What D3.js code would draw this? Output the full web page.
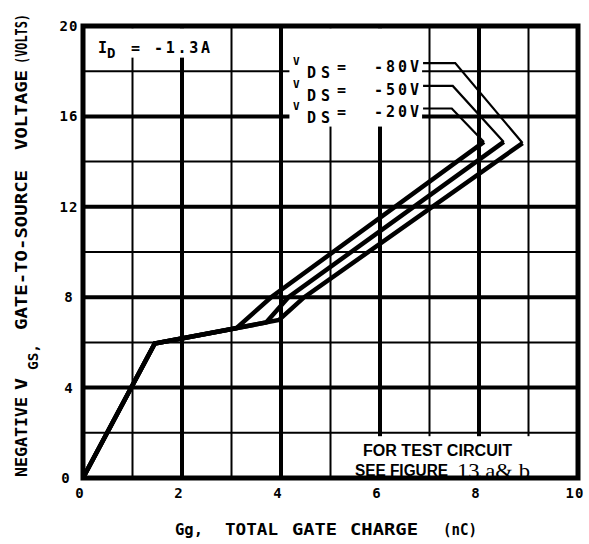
<!DOCTYPE html>
<html>
<head>
<meta charset="utf-8">
<script src="https://cdn.jsdelivr.net/npm/d3@7"></script>
<style>
  html, body { margin: 0; padding: 0; background: #fff; }
  svg { display: block; }
  .mono { font-family: "DejaVu Sans Mono", monospace; font-weight: bold; fill: #000; }
</style>
</head>
<body>
<div id="chart"></div>
<script>
// Gate charge curves: -Vgs vs total gate charge, I_D = -1.3A

const xTickValues = [0, 2, 4, 6, 8, 10];
const yTickValues = [0, 4, 8, 12, 16, 20];
const xGridMinor = [1, 3, 5, 7, 9];
const yGridMinor = [2, 6, 10, 14, 18];

const vdsLabels = ['-20V', '-50V', '-80V'];

// [Qg (nC), -Vgs (V)]
const curveVds20 = [[0, 0], [1.45, 5.95], [3.1, 6.63], [3.8, 8], [8.1, 14.87]];
const curveVds50 = [[0, 0], [1.45, 5.95], [3.7, 6.88], [4.15, 8], [8.5, 14.87]];
const curveVds80 = [[0, 0], [1.45, 5.95], [3.96, 6.99], [4.47, 8], [8.88, 14.82]];
const curves = [curveVds20, curveVds50, curveVds80];

// leader lines from the labels to the curve ends (data units)
const leaderY = [16.35, 17.35, 18.36];
const leaderElbowX = [7.45, 7.47, 7.52];
const leaderStartX = 6.87;

const W = 589, H = 544;

const svg = d3.select('#chart').append('svg')
    .attr('width', W)
    .attr('height', H);

const x = d3.scaleLinear().domain([0, 10]).range([83, 578]);
const y = d3.scaleLinear().domain([0, 20]).range([478, 26]);

// Grid - thin lines every 1 nC / 2 V, heavy every 2 nC / 4 V
const grid = svg.append('g');
grid.selectAll('.vminor').data(xGridMinor).enter().append('line')
    .attr('x1', d => x(d)).attr('x2', d => x(d))
    .attr('y1', y(0)).attr('y2', y(20))
    .attr('stroke', '#000').attr('stroke-width', 2);
grid.selectAll('.hminor').data(yGridMinor).enter().append('line')
    .attr('x1', x(0)).attr('x2', x(10))
    .attr('y1', d => y(d)).attr('y2', d => y(d))
    .attr('stroke', '#000').attr('stroke-width', 2);
grid.selectAll('.vmajor').data(xTickValues.slice(1, -1)).enter().append('line')
    .attr('x1', d => x(d)).attr('x2', d => x(d))
    .attr('y1', y(0)).attr('y2', y(20))
    .attr('stroke', '#000').attr('stroke-width', 4);
grid.selectAll('.hmajor').data(yTickValues.slice(1, -1)).enter().append('line')
    .attr('x1', x(0)).attr('x2', x(10))
    .attr('y1', d => y(d)).attr('y2', d => y(d))
    .attr('stroke', '#000').attr('stroke-width', 4);

// white boxes behind the annotations (grid is broken there)
const masks = [
    { x0: 0.15, x1: 2.7, y0: 18.6, y1: 19.9 },
    { x0: 4.17, x1: 6.85, y0: 15.55, y1: 19.9 },
    { x0: 5.3, x1: 9.95, y0: 0.1, y1: 1.85 }
];
svg.selectAll('.mask').data(masks).enter().append('rect')
    .attr('x', d => x(d.x0))
    .attr('y', d => y(d.y1))
    .attr('width', d => x(d.x1) - x(d.x0))
    .attr('height', d => y(d.y0) - y(d.y1))
    .attr('fill', '#fff');

// Frame
svg.append('rect')
    .attr('x', x(0)).attr('y', y(20))
    .attr('width', x(10) - x(0)).attr('height', y(0) - y(20))
    .attr('fill', 'none').attr('stroke', '#000').attr('stroke-width', 5);

// Curves
const line = d3.line().x(d => x(d[0])).y(d => y(d[1]));
svg.selectAll('.curve').data(curves).enter().append('path')
    .attr('d', line)
    .attr('fill', 'none')
    .attr('stroke', '#000')
    .attr('stroke-width', 4.5)
    .attr('stroke-linejoin', 'miter');

// Leaders
svg.selectAll('.leader').data(curves).enter().append('path')
    .attr('d', (c, i) => line([[leaderStartX, leaderY[i]], [leaderElbowX[i], leaderY[i]], c[c.length - 1]]))
    .attr('fill', 'none')
    .attr('stroke', '#000')
    .attr('stroke-width', 2.2);

// Legend labels
const legend = svg.selectAll('.lg').data(vdsLabels).enter().append('g')
    .attr('transform', (d, i) => `translate(0,${y(leaderY[i]) + 9})`);
legend.append('text').attr('class', 'mono')
    .attr('x', 293).attr('y', -7).style('font-size', '11px').text('V');
legend.append('text').attr('class', 'mono')
    .attr('x', 307).attr('y', 6).style('font-size', '15px')
    .attr('textLength', 23).text('DS');
legend.append('text').attr('class', 'mono')
    .attr('x', 337).attr('y', 0).style('font-size', '15px').text('=');
legend.append('text').attr('class', 'mono')
    .attr('x', 419).attr('y', 0).attr('text-anchor', 'end')
    .style('font-size', '15px').attr('textLength', 45).text(d => d);

// I_D label
const idLabel = svg.append('g');
idLabel.append('text').attr('class', 'mono')
    .attr('x', 98).attr('y', 53).style('font-size', '15px').text('I');
idLabel.append('text').attr('class', 'mono')
    .attr('x', 107).attr('y', 58).style('font-size', '14px').text('D');
idLabel.append('text').attr('class', 'mono')
    .attr('x', 131).attr('y', 53).style('font-size', '15px').text('=');
idLabel.append('text').attr('class', 'mono')
    .attr('x', 154).attr('y', 53).style('font-size', '15px')
    .attr('textLength', 56).text('-1.3A');

// Tick labels
svg.selectAll('.xt').data(xTickValues).enter().append('text')
    .attr('class', 'mono')
    .attr('x', d => x(d) - 3)
    .attr('y', 498)
    .attr('text-anchor', 'middle')
    .style('font-size', '14px')
    .style('letter-spacing', '1px')
    .text(d => d);
svg.selectAll('.yt').data(yTickValues).enter().append('text')
    .attr('class', 'mono')
    .attr('x', d => d === 0 ? 66 : 69)
    .attr('y', d => y(d) + 5)
    .attr('text-anchor', 'middle')
    .style('font-size', '14px')
    .style('letter-spacing', '1px')
    .text(d => d);

// X axis title
const xTitle = [
    { t: 'Gg,', x0: 175, len: 28 },
    { t: 'TOTAL', x0: 225, len: 53 },
    { t: 'GATE', x0: 292, len: 45 },
    { t: 'CHARGE', x0: 350, len: 68 },
    { t: '(nC)', x0: 443, len: 34 }
];
svg.selectAll('.xtitle').data(xTitle).enter().append('text')
    .attr('class', 'mono')
    .attr('x', d => d.x0).attr('y', 535)
    .style('font-size', '15px')
    .attr('textLength', d => d.len).attr('lengthAdjust', 'spacingAndGlyphs')
    .text(d => d.t);

// Y axis title (rotated)
const yTitle = [
    { t: 'NEGATIVE', y0: 477, len: 80, dx: 0, size: 15 },
    { t: 'V', y0: 390, len: 12, dx: 0, size: 15 },
    { t: 'GS,', y0: 370, len: 26, dx: 11, size: 14 },
    { t: 'GATE-TO-SOURCE', y0: 330, len: 160, dx: 0, size: 15 },
    { t: 'VOLTAGE', y0: 150, len: 80, dx: 0, size: 15 },
    { t: '(VOLTS)', y0: 64, len: 50, dx: 0, size: 15 }
];
svg.selectAll('.ytitle').data(yTitle).enter().append('text')
    .attr('class', 'mono')
    .attr('transform', d => `translate(${27 + d.dx},${d.y0}) rotate(-90)`)
    .style('font-size', d => d.size + 'px')
    .attr('textLength', d => d.len).attr('lengthAdjust', 'spacingAndGlyphs')
    .text(d => d.t);

// Test circuit note
svg.append('text')
    .attr('x', 363).attr('y', 456)
    .style('font-family', '"Liberation Sans Narrow", "Liberation Sans", sans-serif')
    .style('font-weight', 'bold').style('font-size', '16px')
    .attr('textLength', 149).attr('lengthAdjust', 'spacingAndGlyphs')
    .text('FOR TEST CIRCUIT');
svg.append('text')
    .attr('x', 355).attr('y', 476)
    .style('font-family', '"Liberation Sans Narrow", "Liberation Sans", sans-serif')
    .style('font-weight', 'bold').style('font-size', '16px')
    .attr('textLength', 93).attr('lengthAdjust', 'spacingAndGlyphs')
    .text('SEE FIGURE');
svg.append('text')
    .attr('x', 457).attr('y', 478)
    .style('font-family', '"Liberation Serif", serif')
    .style('font-size', '22px')
    .attr('textLength', 73).attr('lengthAdjust', 'spacingAndGlyphs')
    .text('13 a& b');
</script>
</body>
</html>
